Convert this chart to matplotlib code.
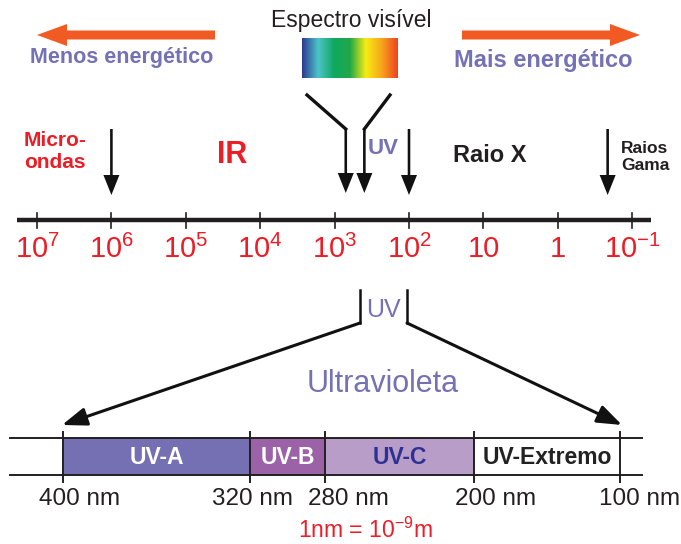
import matplotlib
matplotlib.use("Agg")
import matplotlib.pyplot as plt
import numpy as np
from matplotlib.colors import LinearSegmentedColormap
from matplotlib.patches import Rectangle, FancyArrow

plt.rcParams['font.family'] = ['Liberation Sans', 'DejaVu Sans']
plt.rcParams['mathtext.fontset'] = 'custom'
plt.rcParams['mathtext.rm'] = 'Liberation Sans'

# data
tick_exponents = [7, 6, 5, 4, 3, 2, 1, 0, -1]
tick_labels = [r'$\mathregular{10^{7}}$', r'$\mathregular{10^{6}}$', r'$\mathregular{10^{5}}$',
               r'$\mathregular{10^{4}}$', r'$\mathregular{10^{3}}$', r'$\mathregular{10^{2}}$',
               '10', '1', r'$\mathregular{10^{-1}}$']
# region boundaries (log10 of wavelength in nm)
boundary_exp = [6.0, 2.85, 2.6, 2.0, -0.67]
uv_edges_nm = [400, 320, 280, 200, 100]
uv_bands = ['UV-A', 'UV-B', 'UV-C', 'UV-Extremo']
uv_colors = ['#7470b3', '#9b62a8', '#b89dc9', '#ffffff']
uv_text_colors = ['white', 'white', '#2e3192', '#222222']
spectrum_colors = ['#2b3990', '#4dc4c8', '#10a860', '#21a848', '#f7ec13', '#f7a41d', '#ef4123']

PURPLE = '#7471b4'
RED = '#ee1c25'
ORANGE = '#f15a22'

fig = plt.figure(figsize=(6.81, 5.44), dpi=100)
ax = fig.add_axes([0, 0, 1, 1])
ax.set_xlim(0, 681)
ax.set_ylim(544, 0)
ax.axis('off')

# top scale layout
x0, dec = 37, 74.4
def xpos(e):
    return x0 + (7 - e) * dec

# header
ax.text(351, 20, 'Espectro visível', ha='center', va='center', fontsize=16.5, color='#231f20')
cmap = LinearSegmentedColormap.from_list('vis', spectrum_colors)
ax.imshow(np.linspace(0, 1, 256)[None, :], cmap=cmap, aspect='auto',
          extent=[302, 398, 78, 38], zorder=1)
ax.add_patch(FancyArrow(215, 35, -178, 0, width=9, head_width=22, head_length=30,
                        length_includes_head=True, color=ORANGE, lw=0))
ax.add_patch(FancyArrow(462, 35, 178, 0, width=9, head_width=22, head_length=30,
                        length_includes_head=True, color=ORANGE, lw=0))
ax.text(122, 57, 'Menos energético', ha='center', va='center', fontsize=15.5,
        fontweight='bold', color=PURPLE)
ax.text(543, 60, 'Mais energético', ha='center', va='center', fontsize=17,
        fontweight='bold', color=PURPLE)

# main axis
ax.plot([17, 651], [220, 220], color='#231f20', lw=3.2, solid_capstyle='butt')
for e, lab in zip(tick_exponents, tick_labels):
    ax.plot([xpos(e), xpos(e)], [213, 228], color='#231f20', lw=1.2)
    ax.text(xpos(e), 249, lab, ha='center', va='center', fontsize=21, color=RED)

def down_arrow(x, y0, y1):
    ax.add_patch(FancyArrow(x, y0, 0, y1 - y0, width=2.6, head_width=16, head_length=20,
                            length_includes_head=True, color='#111111', lw=0))

ytop, ybot = 129, 195
down_arrow(xpos(boundary_exp[0]), ytop, ybot)
vis_r, vis_v = xpos(boundary_exp[1]), xpos(boundary_exp[2])
down_arrow(vis_r, ytop, ybot - 2)
down_arrow(vis_v, ytop, ybot - 2)
ax.plot([307, vis_r], [95, ytop], color='#111111', lw=2.4)
ax.plot([390, vis_v], [95, ytop], color='#111111', lw=2.4)
down_arrow(xpos(boundary_exp[3]), ytop, ybot)
down_arrow(xpos(boundary_exp[4]), ytop, ybot)

ax.text(55, 152, 'Micro-\nondas', ha='center', va='center', fontsize=15,
        fontweight='bold', color=RED, linespacing=1.2)
ax.text(232, 155, 'IR', ha='center', va='center', fontsize=22, fontweight='bold', color=RED)
ax.text(383, 148, 'UV', ha='center', va='center', fontsize=16, fontweight='bold', color=PURPLE)
ax.text(490, 155, 'Raio X', ha='center', va='center', fontsize=17, fontweight='bold',
        color='#231f20')
ax.text(621, 157, 'Raios\nGama', ha='left', va='center', fontsize=12.5, fontweight='bold',
        color='#231f20', linespacing=1.15)

# UV zoom bracket
ax.plot([360, 360], [290, 323], color='#111111', lw=1.8)
ax.plot([407, 407], [290, 323], color='#111111', lw=1.8)
ax.text(383, 310, 'UV', ha='center', va='center', fontsize=18, color=PURPLE)
ax.annotate('', xy=(62, 425), xytext=(360, 323),
            arrowprops=dict(arrowstyle='-|>,head_length=1.5,head_width=0.55',
                            color='#111111', lw=2.2, shrinkA=0, shrinkB=0))
ax.annotate('', xy=(622, 425), xytext=(407, 323),
            arrowprops=dict(arrowstyle='-|>,head_length=1.5,head_width=0.55',
                            color='#111111', lw=2.2, shrinkA=0, shrinkB=0))
ax.text(383, 384, 'Ultravioleta', ha='center', va='center', fontsize=22, color=PURPLE)

# UV bands
edge_x = [63, 250, 325, 474, 620]
yb0, yb1 = 438, 475
for i, name in enumerate(uv_bands):
    ax.add_patch(Rectangle((edge_x[i], yb0), edge_x[i + 1] - edge_x[i], yb1 - yb0,
                           facecolor=uv_colors[i], edgecolor='none', zorder=1))
    ax.text((edge_x[i] + edge_x[i + 1]) / 2, (yb0 + yb1) / 2 + 1, name, ha='center',
            va='center', fontsize=16.5, fontweight='bold', color=uv_text_colors[i], zorder=3)
ax.plot([10, 642], [yb0, yb0], color='#231f20', lw=1.4, zorder=2)
ax.plot([10, 642], [yb1, yb1], color='#231f20', lw=1.4, zorder=2)
label_dx = [17, 2, 23, 22, 20]
for x, nm, dx in zip(edge_x, uv_edges_nm, label_dx):
    ax.plot([x, x], [432, 482], color='#231f20', lw=1.4, zorder=2)
    ax.text(x + dx, 499, f'{nm} nm', ha='center', va='center', fontsize=17.5, color='#231f20')
ax.text(365, 530, r'1nm = 10$\mathregular{^{-9}}$m', ha='center', va='center',
        fontsize=16.5, color=RED)

fig.savefig('out.png', dpi=100)
